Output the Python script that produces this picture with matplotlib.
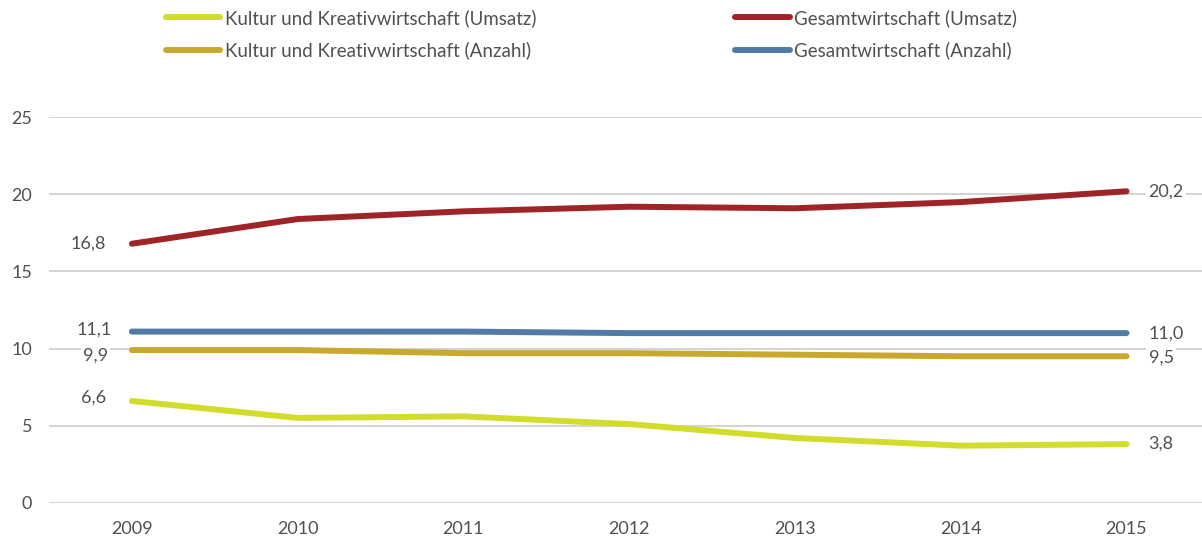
import matplotlib.pyplot as plt
import numpy as np

plt.rcParams['font.family'] = ['Lato', 'DejaVu Sans']

years = ["2009", "2010", "2011", "2012", "2013", "2014", "2015"]
kkw_umsatz = [6.6, 5.5, 5.6, 5.1, 4.2, 3.7, 3.8]
kkw_anzahl = [9.9, 9.9, 9.7, 9.7, 9.6, 9.5, 9.5]
gesamt_umsatz = [16.8, 18.4, 18.9, 19.2, 19.1, 19.5, 20.2]
gesamt_anzahl = [11.1, 11.1, 11.1, 11.0, 11.0, 11.0, 11.0]

series = [
    ("Kultur und Kreativwirtschaft (Umsatz)", kkw_umsatz, "#d2dc2b"),
    ("Kultur und Kreativwirtschaft (Anzahl)", kkw_anzahl, "#c9a82e"),
    ("Gesamtwirtschaft (Umsatz)", gesamt_umsatz, "#9f2427"),
    ("Gesamtwirtschaft (Anzahl)", gesamt_anzahl, "#517ba6"),
]
# pixel offsets of the end labels (left label, right label)
label_offsets = [((-26, 3), (22, 0)), ((-24, -6), (22, -1)),
                 ((-26, 0), (22, 0)), ((-20, 2), (22, -1))]

text_color = "#505050"
W, H = 1202, 540
fig = plt.figure(figsize=(W / 100, H / 100), dpi=100)
ax = fig.add_axes([49 / W, (H - 502.7) / H, (W - 49) / W, 385.4 / H])

x = np.arange(len(years))
for (name, values, color), (off_l, off_r) in zip(series, label_offsets):
    ax.plot(x, values, color=color, lw=4.3, solid_capstyle='round',
            solid_joinstyle='round', label=name, zorder=3, clip_on=False)
    for idx, off, ha in ((0, off_l, 'right'), (-1, off_r, 'left')):
        ax.annotate(f"{values[idx]:.1f}".replace(".", ","), (x[idx], values[idx]),
                    xytext=off, textcoords='offset pixels', ha=ha, va='center',
                    fontsize=13, color=text_color, zorder=4,
                    bbox=dict(facecolor='white', edgecolor='none', pad=1.5))

ax.set_xlim(-0.5, (W - 131.7) / 165.8)
ax.set_ylim(0, 25)
ax.set_yticks(range(0, 26, 5))
ax.set_xticks(x, years)
ax.grid(axis='y', color='#d0d0d0', lw=1.3, zorder=1)
ax.set_axisbelow(True)
for s in ax.spines.values():
    s.set_visible(False)
ax.tick_params(length=0, labelsize=13, labelcolor=text_color)
ax.tick_params(axis='y', pad=12)
ax.tick_params(axis='x', pad=13)

fig.legend(loc='upper left', bbox_to_anchor=(166 / W, 1 - 9 / H), ncol=2,
           frameon=False, fontsize=13.5, labelcolor=text_color,
           handlelength=2.9, handletextpad=0.25, columnspacing=10.6,
           labelspacing=0.78, borderaxespad=0, borderpad=0)

fig.savefig("out.png", dpi=100)
